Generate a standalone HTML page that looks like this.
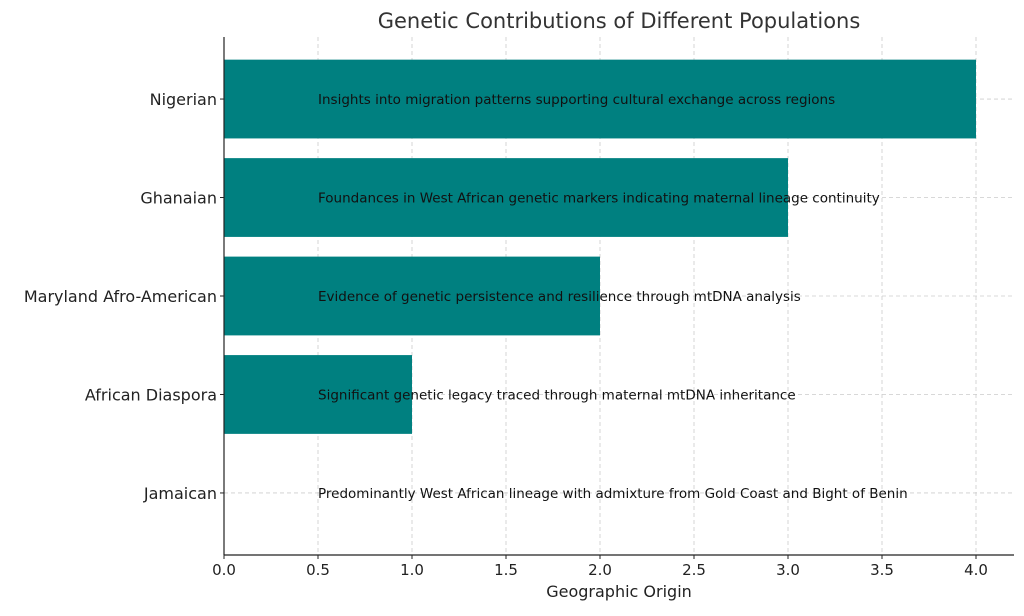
<!DOCTYPE html>
<html><head><meta charset="utf-8"><style>
body{margin:0;background:#fff;}
svg text{font-family:"DejaVu Sans","Liberation Sans",sans-serif;}
</style></head><body>
<svg id="chart" width="1024" height="611" xmlns="http://www.w3.org/2000/svg"></svg>
<script>
const categories=["Nigerian","Ghanaian","Maryland Afro-American","African Diaspora","Jamaican"];
const values=[4,3,2,1,0];
const notes=["Insights into migration patterns supporting cultural exchange across regions","Foundances in West African genetic markers indicating maternal lineage continuity","Evidence of genetic persistence and resilience through mtDNA analysis","Significant genetic legacy traced through maternal mtDNA inheritance","Predominantly West African lineage with admixture from Gold Coast and Bight of Benin"];
const xTicks=[0,0.5,1,1.5,2,2.5,3,3.5,4];
const noteX=0.5;
const svg=document.getElementById('chart');
const NS='http://www.w3.org/2000/svg';
const L=224,R=1014,T=37,B=555;
const xS=v=>L+v*188;
const step=(B-T)/(categories.length-1+1.26);
const yS=i=>T+0.63*step+i*step;
const bh=step*0.8;
function mk(tag,attrs,txt){const e=document.createElementNS(NS,tag);for(const k in attrs)e.setAttribute(k,attrs[k]);if(txt!==undefined)e.textContent=txt;svg.appendChild(e);return e;}
// grid
xTicks.forEach(t=>{const e=mk('line',{x1:xS(t),x2:xS(t),y1:T,y2:B,stroke:'#ccc','stroke-dasharray':'4,3','stroke-width':0.8});

});
categories.forEach((c,i)=>{const e=mk('line',{x1:L,x2:R,y1:yS(i),y2:yS(i),stroke:'#ccc','stroke-dasharray':'4,3','stroke-width':0.8});

});
// bars
categories.forEach((c,i)=>{if(values[i]>0){const r=mk('rect',{x:L,y:yS(i)-bh/2,width:xS(values[i])-L,height:bh,fill:'#008080'});

}
const t=mk('text',{x:xS(noteX),y:yS(i)+5,'font-size':13.5,fill:'#111'},notes[i]);


const l=mk('text',{x:L-7,y:yS(i)+6,'font-size':16,fill:'#222','text-anchor':'end'},c);


const tk=mk('line',{x1:L-4,x2:L,y1:yS(i),y2:yS(i),stroke:'#222'});

});
xTicks.forEach(t=>{const tk=mk('line',{x1:xS(t),x2:xS(t),y1:B,y2:B+4,stroke:'#222'});


const l=mk('text',{x:xS(t),y:B+20,'font-size':15,fill:'#222','text-anchor':'middle'},t.toFixed(1));

});
const ax1=mk('line',{x1:L,x2:L,y1:T,y2:B,stroke:'#222','stroke-width':1.2});


const ax2=mk('line',{x1:L,x2:R,y1:B,y2:B,stroke:'#222','stroke-width':1.2});


const xt=mk('text',{x:(L+R)/2,y:597,'font-size':16,fill:'#222','text-anchor':'middle'},'Geographic Origin');


const tt=mk('text',{x:(L+R)/2,y:28,'font-size':21,fill:'#333','text-anchor':'middle'},'Genetic Contributions of Different Populations');


</script>
</body></html>
